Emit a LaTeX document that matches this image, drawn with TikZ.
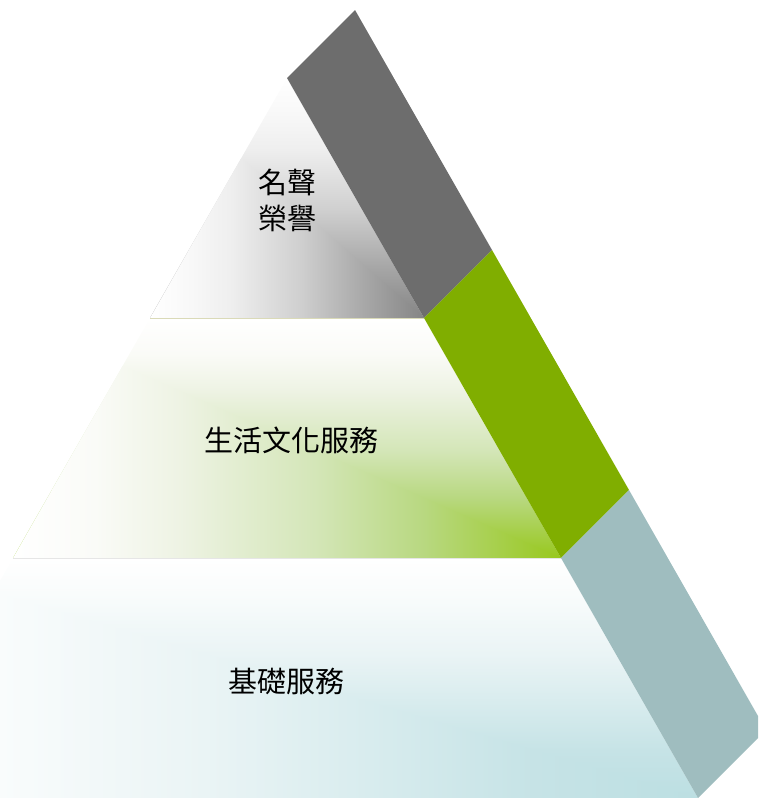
\documentclass[tikz,border=0pt]{standalone}
\usepackage{fontspec}
\newfontfamily\cjk{Noto Sans CJK TC}
% band colours
\definecolor{bandgray}{HTML}{6D6D6D}
\definecolor{bandgreen}{HTML}{80AE00}
\definecolor{bandblue}{HTML}{9FBDBF}
% gray gradient stops
\definecolor{ga}{HTML}{FFFFFF}\definecolor{gb}{HTML}{F8F8F8}\definecolor{gc}{HTML}{EEEEEE}
\definecolor{gd}{HTML}{CFCFCF}\definecolor{ge}{HTML}{A8A8A8}\definecolor{gf}{HTML}{858585}
% green gradient stops
\definecolor{va}{HTML}{FFFFFF}\definecolor{vb}{HTML}{FAFBF7}\definecolor{vc}{HTML}{EEF3E4}
\definecolor{vd}{HTML}{D4E6B8}\definecolor{ve}{HTML}{B8D880}\definecolor{vf}{HTML}{98C81E}
% cyan gradient stops
\definecolor{ca}{HTML}{FFFFFF}\definecolor{cb}{HTML}{F9FCFC}\definecolor{cc}{HTML}{EAF4F5}
\definecolor{cd}{HTML}{D8ECEE}\definecolor{ce}{HTML}{C6E3E6}\definecolor{cf}{HTML}{BCDFE2}
\definecolor{seamA}{HTML}{DADAB8}
\definecolor{seamB}{HTML}{E6E6E6}
% horizontal (left=white) and vertical (top=white) shadings
\pgfdeclarehorizontalshading{grayH}{100bp}{color(0bp)=(ga); color(25bp)=(ga); color(32.5bp)=(gb); color(40bp)=(gc); color(52.5bp)=(gd); color(64bp)=(ge); color(75bp)=(gf); color(100bp)=(gf)}
\pgfdeclareverticalshading{grayV}{100bp}{color(0bp)=(gf); color(25bp)=(gf); color(36bp)=(ge); color(47.5bp)=(gd); color(60bp)=(gc); color(67.5bp)=(gb); color(75bp)=(ga); color(100bp)=(ga)}
\pgfdeclarehorizontalshading{greenH}{100bp}{color(0bp)=(va); color(25bp)=(va); color(32.5bp)=(vb); color(40bp)=(vc); color(52.5bp)=(vd); color(62.5bp)=(ve); color(75bp)=(vf); color(100bp)=(vf)}
\pgfdeclareverticalshading{greenV}{100bp}{color(0bp)=(vf); color(25bp)=(vf); color(37.5bp)=(ve); color(47.5bp)=(vd); color(60bp)=(vc); color(67.5bp)=(vb); color(75bp)=(va); color(100bp)=(va)}
\pgfdeclarehorizontalshading{cyanH}{100bp}{color(0bp)=(ca); color(25bp)=(ca); color(32.5bp)=(cb); color(45bp)=(cc); color(55bp)=(cd); color(65bp)=(ce); color(75bp)=(cf); color(100bp)=(cf)}
\pgfdeclareverticalshading{cyanV}{100bp}{color(0bp)=(cf); color(25bp)=(cf); color(35bp)=(ce); color(45bp)=(cd); color(55bp)=(cc); color(67.5bp)=(cb); color(75bp)=(ca); color(100bp)=(ca)}
\tikzset{
  label text/.style={inner sep=0pt, align=center, text=black,
    font=\cjk\fontsize{29pt}{36pt}\selectfont},
  band/.style={draw=none}
}
\begin{document}
\begin{tikzpicture}[x=1pt,y=-1pt]
\useasboundingbox (0,0) rectangle (758,798);
\clip (0,0) rectangle (758,798);
% pyramid vertices
\coordinate (A) at (287,78);
\coordinate (L1) at (150,318);
\coordinate (R1) at (424,318);
\coordinate (L2) at (13,558);
\coordinate (R2) at (561,558);
\coordinate (L3) at (-124,798);
\coordinate (R3) at (698,798);
% band outer vertices (offset 68,-68)
\coordinate (A') at (355,10);
\coordinate (R1') at (492,250);
\coordinate (R2') at (629,490);
\coordinate (R3') at (766,730);

% top section
\begin{scope}
  \clip (A) -- (R1) -- (L1) -- cycle;
  \shade[shading=grayV] (150,78) rectangle (424,318);
  \clip (150,78) -- (424,318) -- (150,318) -- cycle;
  \shade[shading=grayH] (150,78) rectangle (424,318);
\end{scope}
% middle section
\begin{scope}
  \clip (L1) -- (R1) -- (R2) -- (L2) -- cycle;
  \shade[shading=greenV] (13,318) rectangle (561,558);
  \clip (13,318) -- (561,558) -- (13,558) -- cycle;
  \shade[shading=greenH] (13,318) rectangle (561,558);
\end{scope}
% bottom section
\begin{scope}
  \clip (L2) -- (R2) -- (R3) -- (L3) -- cycle;
  \shade[shading=cyanV] (-124,558) rectangle (698,798);
  \clip (-124,558) -- (698,798) -- (-124,798) -- cycle;
  \shade[shading=cyanH] (-124,558) rectangle (698,798);
\end{scope}
% seams
\draw[seamA, line width=1pt] (L1) -- (R1);
\draw[seamB, line width=1pt] (L2) -- (R2);
% side bands
\fill[bandgray, band] (A) -- (A') -- (R1') -- (R1) -- cycle;
\fill[bandgreen, band] (R1) -- (R1') -- (R2') -- (R2) -- cycle;
\fill[bandblue, band] (R2) -- (R2') -- (R3') -- (R3) -- cycle;
% labels
\node[label text] (top) at (287,200) {名聲\\榮譽};
\node[label text] (mid) at (291,440) {生活文化服務};
\node[label text] (base) at (286,681) {基礎服務};
\end{tikzpicture}
\end{document}
